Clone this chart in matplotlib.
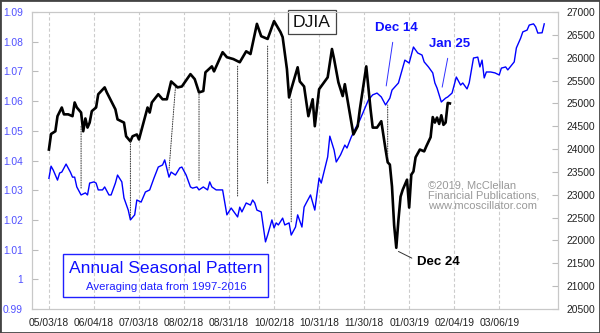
import matplotlib
matplotlib.use("Agg")
import matplotlib.pyplot as plt
from matplotlib.patches import Rectangle, ConnectionPatch
from matplotlib.ticker import FuncFormatter

plt.rcParams['font.family'] = ['Liberation Sans', 'DejaVu Sans']

# x positions are trading days counted from 05/03/18
tick_days = [0, 21, 42, 63, 84, 105, 126, 147, 168, 189, 210]
tick_labels = ['05/03/18', '06/04/18', '07/03/18', '08/02/18', '08/31/18', '10/02/18',
               '10/31/18', '11/30/18', '01/03/19', '02/04/19', '03/06/19']

# DJIA closes (right scale)
dj_day = [0, 1, 3, 4, 6, 7, 9, 11, 12, 13, 15, 16, 17, 18, 19, 20, 22, 23, 26, 27,
          31, 32, 35, 36, 38, 39, 41, 42, 46, 47, 48, 51, 53, 55, 57, 60, 62, 66, 68, 70,
          72, 73, 76, 77, 81, 83, 86, 89, 92, 94, 97, 99, 102, 105, 108, 109, 111, 112, 113, 116,
          117, 119, 121, 123, 124, 126, 130, 132, 133, 135, 137, 138, 140, 142, 144, 145, 148, 150, 151, 153,
          155, 157, 158, 159, 160, 161, 162, 163, 164, 165, 167, 168, 169, 170, 171, 173, 175, 176, 178, 179,
          180, 181, 182, 183, 184, 185, 186, 187]
dj_close = [23990, 24330, 24390, 24720, 24910, 24760, 24760, 24720, 25020, 24910,
            24800, 24390, 24670, 24470, 24580, 24830, 24910, 25200, 25350, 25240,
            24870, 24650, 24580, 24280, 24170, 24280, 24320, 24210, 24910, 24800,
            25020, 25200, 25090, 25090, 25480, 25350, 25370, 25640, 25530, 25240,
            25270, 25680, 25810, 25700, 26120, 26010, 25970, 25900, 26140, 26080,
            26740, 26470, 26410, 26800, 26560, 26450, 25750, 25130, 25310, 25790,
            25480, 25370, 24720, 25090, 24500, 25310, 25570, 26190, 25970, 25460,
            25160, 25420, 24870, 24320, 24500, 24870, 25810, 24870, 24470, 24470,
            24610, 23990, 23710, 23660, 23180, 22330, 21840, 22450, 22960, 23110,
            23330, 22720, 23440, 23510, 23820, 23990, 23950, 24060, 24260, 24700,
            24580, 24690, 24550, 24740, 24530, 24580, 25010, 25000]

# Seasonal pattern (left scale)
seas_day = [0, 1, 2, 4, 5, 6, 8, 10, 11, 12, 13, 15, 17, 18, 19, 21, 22, 23, 25, 26,
            28, 29, 31, 32, 34, 35, 37, 38, 40, 41, 43, 45, 47, 49, 51, 53, 54, 56, 57, 59,
            61, 62, 64, 66, 67, 69, 70, 72, 74, 75, 76, 78, 81, 82, 83, 85, 88, 89, 90, 92,
            94, 95, 96, 97, 99, 101, 102, 104, 105, 106, 107, 109, 110, 112, 113, 115, 116, 118, 119, 120,
            122, 124, 126, 127, 130, 131, 133, 134, 136, 138, 139, 141, 143, 145, 147, 149, 151, 153, 155, 157,
            159, 160, 163, 166, 168, 170, 172, 174, 175, 177, 179, 180, 181, 183, 185, 186, 188, 190, 192, 193,
            195, 196, 198, 200, 201, 202, 203, 204, 206, 208, 210, 211, 213, 214, 217, 218, 220, 221, 223, 224,
            226, 227, 228, 230, 231]
seas_val = [1.0340, 1.0381, 1.0368, 1.0334, 1.0358, 1.0361, 1.0388, 1.0361, 1.0344, 1.0344,
            1.0311, 1.0284, 1.0291, 1.0284, 1.0324, 1.0328, 1.0324, 1.0301, 1.0301, 1.0311,
            1.0284, 1.0284, 1.0324, 1.0351, 1.0328, 1.0274, 1.0233, 1.0200, 1.0217, 1.0267,
            1.0260, 1.0294, 1.0301, 1.0341, 1.0378, 1.0385, 1.0402, 1.0344, 1.0361, 1.0351,
            1.0375, 1.0378, 1.0351, 1.0311, 1.0307, 1.0311, 1.0301, 1.0311, 1.0301, 1.0328,
            1.0311, 1.0301, 1.0301, 1.0260, 1.0217, 1.0240, 1.0210, 1.0243, 1.0227, 1.0257,
            1.0250, 1.0267, 1.0257, 1.0233, 1.0227, 1.0126, 1.0149, 1.0200, 1.0173, 1.0190,
            1.0183, 1.0206, 1.0183, 1.0190, 1.0149, 1.0176, 1.0217, 1.0176, 1.0243, 1.0257,
            1.0284, 1.0233, 1.0341, 1.0324, 1.0412, 1.0482, 1.0435, 1.0395, 1.0419, 1.0452,
            1.0442, 1.0479, 1.0509, 1.0536, 1.0570, 1.0604, 1.0621, 1.0627, 1.0614, 1.0587,
            1.0610, 1.0637, 1.0661, 1.0738, 1.0728, 1.0782, 1.0762, 1.0755, 1.0732, 1.0715,
            1.0695, 1.0661, 1.0644, 1.0597, 1.0610, 1.0614, 1.0627, 1.0681, 1.0654, 1.0661,
            1.0641, 1.0661, 1.0745, 1.0748, 1.0715, 1.0738, 1.0678, 1.0698, 1.0698, 1.0695,
            1.0688, 1.0711, 1.0715, 1.0705, 1.0732, 1.0779, 1.0812, 1.0833, 1.0839, 1.0856,
            1.0860, 1.0850, 1.0829, 1.0830, 1.0860]

# dotted links between matching turning points
link_dj_day = [15, 38, 59, 70, 88, 102, 113, 158]
link_dj_val = [24497, 24167, 25353, 25199, 25814, 26254, 25090, 23838]
link_seas_day = [15, 38, 56, 70, 88, 102, 113, 158]
link_seas_val = [1.0307, 1.0206, 1.0368, 1.0334, 1.0277, 1.0324, 1.0190, 1.0587]

fig = plt.figure(figsize=(6.0, 3.33), dpi=100)
ax = fig.add_axes([0.0533, 0.072, 0.877, 0.892])
ax2 = ax.twinx()

ax.set_xlim(-7.9, 237.5)
ax.set_ylim(0.99, 1.09)
ax2.set_ylim(20500, 27000)

ax.plot(seas_day, seas_val, color='#0000ff', lw=1.0, zorder=3)
ax2.plot(dj_day, dj_close, color='black', lw=1.9, zorder=3)

for d1, v1, d2, v2 in zip(link_dj_day, link_dj_val, link_seas_day, link_seas_val):
    con = ConnectionPatch(xyA=(d1, v1), coordsA=ax2.transData,
                          xyB=(d2, v2), coordsB=ax.transData,
                          color='#333333', lw=0.7, linestyle=(0, (1, 1.5)))
    fig.add_artist(con)

# axes styling
ax.set_xticks(tick_days)
ax.set_xticklabels(tick_labels)
ax.set_yticks([0.99 + i * 0.01 for i in range(11)])
ax.yaxis.set_major_formatter(FuncFormatter(lambda v, p: '%g' % round(v, 2)))
ax2.set_yticks(list(range(20500, 27001, 500)))
ax.grid(axis='x', color='#cccccc', lw=0.8, linestyle=(0, (3, 2)))
ax.tick_params(axis='x', length=0, pad=6.5, labelsize=7.4, labelcolor='#222222')
ax.tick_params(axis='y', direction='in', length=4.5, color='#bbbbbb', pad=6.5,
               labelsize=7.4, labelcolor='#5050ff')
ax2.tick_params(axis='y', direction='in', length=4.5, color='#bbbbbb', pad=6,
                labelsize=7.4, labelcolor='#222222')
for a in (ax, ax2):
    for s in a.spines.values():
        s.set_color('#c8c8c8')
        s.set_linewidth(0.8)

# title box
ax.text(0.532, 0.966, 'DJIA', transform=ax.transAxes, ha='center', va='center',
        fontsize=12.6, color='#111111', zorder=5,
        bbox=dict(boxstyle='square,pad=0.28', fc='white', ec='#444444', lw=0.9))

# legend box
ax.add_patch(Rectangle((0.059, 0.040), 0.390, 0.145, transform=ax.transAxes,
                       fill=False, ec='#2020ff', lw=1.0, zorder=4))
ax.text(0.254, 0.138, 'Annual Seasonal Pattern', transform=ax.transAxes,
        ha='center', va='center', fontsize=12.6, color='#1010ff', zorder=5)
ax.text(0.256, 0.074, 'Averaging data from 1997-2016', transform=ax.transAxes,
        ha='center', va='center', fontsize=8.2, color='#2020ff', zorder=5)

# copyright
ax.text(0.753, 0.434, '\u00a92019, McClellan\nFinancial Publications,\nwww.mcoscillator.com',
        transform=ax.transAxes, ha='left', va='top', fontsize=8, color='#999999',
        linespacing=1.05, zorder=5)

# date callouts
ax.annotate('Dec 14', xy=(157.3, 1.0651), xytext=(161.9, 1.0846),
            ha='center', va='center', fontsize=9.5, fontweight='bold', color='#1010ff',
            arrowprops=dict(arrowstyle='-', color='#3030ff', lw=0.7,
                            relpos=(0.45, 0.0), shrinkA=4, shrinkB=0))
ax.annotate('Jan 25', xy=(183.4, 1.0647), xytext=(186.7, 1.0792),
            ha='center', va='center', fontsize=9.5, fontweight='bold', color='#1010ff',
            arrowprops=dict(arrowstyle='-', color='#3030ff', lw=0.7,
                            relpos=(0.5, 0.0), shrinkA=4, shrinkB=0))
ax2.annotate('Dec 24', xy=(163.0, 21760), xytext=(171.7, 21530),
             ha='left', va='center', fontsize=9.5, fontweight='bold', color='black',
             arrowprops=dict(arrowstyle='-', color='#333333', lw=0.7,
                             relpos=(0.0, 0.6), shrinkA=2, shrinkB=0))

# outer frame
fig.add_artist(Rectangle((0, 0), 1, 1, transform=fig.transFigure, fill=False,
                         ec='#444444', lw=2.0))

fig.savefig('out.png', dpi=100)
